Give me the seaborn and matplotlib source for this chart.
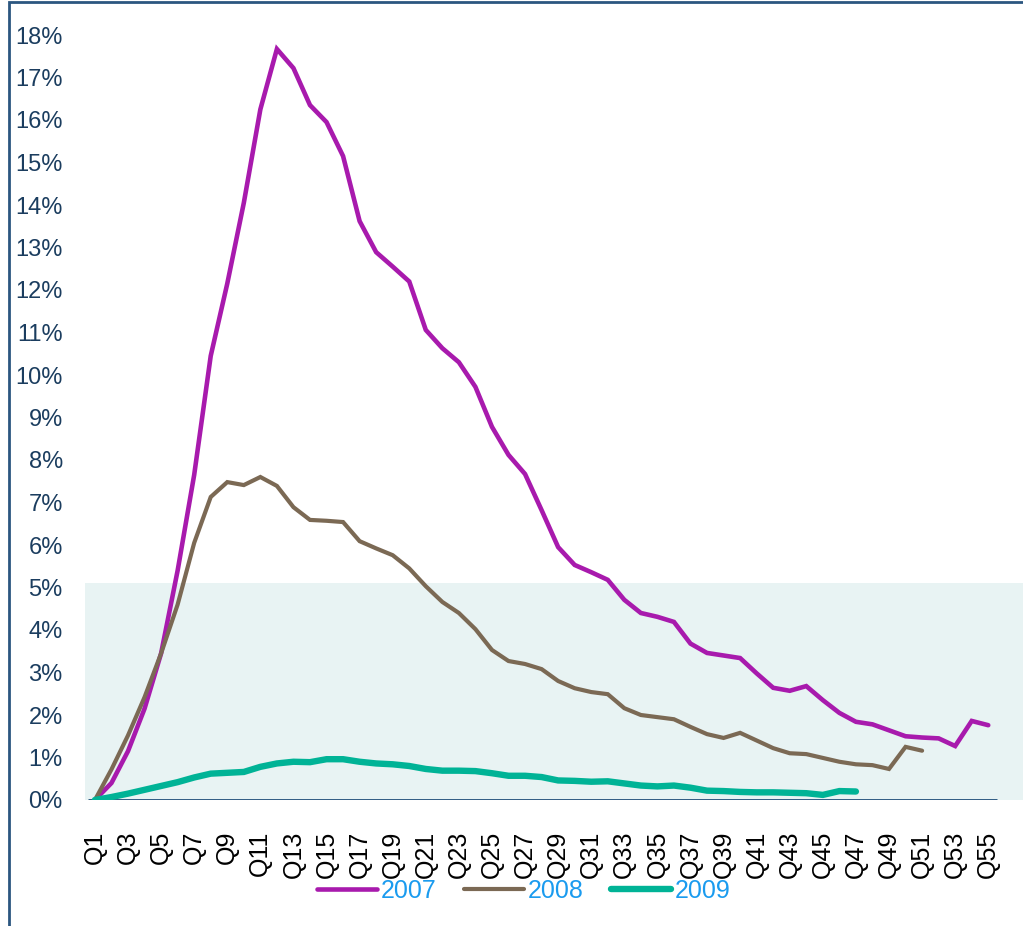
import matplotlib
matplotlib.use("Agg")
import matplotlib.pyplot as plt
from matplotlib.patches import Rectangle
import pandas as pd
import seaborn as sns

# Cumulative share by quarter since origination, per vintage (percent)
quarters = [f"Q{i}" for i in range(1, 56)]

vintage_2007 = [0.0, 0.4, 1.15, 2.15, 3.45, 5.4, 7.65, 10.45, 12.15, 14.05,
                16.25, 17.67, 17.22, 16.35, 15.95, 15.15, 13.62, 12.89, 12.55, 12.2,
                11.06, 10.63, 10.3, 9.72, 8.78, 8.12, 7.67, 6.82, 5.95, 5.53,
                5.36, 5.18, 4.71, 4.4, 4.31, 4.19, 3.68, 3.46, 3.4, 3.34,
                2.98, 2.64, 2.57, 2.68, 2.35, 2.05, 1.84, 1.78, 1.64, 1.5,
                1.47, 1.45, 1.27, 1.86, 1.76]

vintage_2008 = [0.0, 0.72, 1.52, 2.42, 3.45, 4.6, 6.05, 7.13, 7.48, 7.41,
                7.6, 7.39, 6.89, 6.59, 6.57, 6.54, 6.09, 5.92, 5.76, 5.45,
                5.03, 4.66, 4.4, 4.02, 3.53, 3.27, 3.2, 3.08, 2.8, 2.63,
                2.54, 2.49, 2.16, 2.0, 1.95, 1.9, 1.72, 1.55, 1.46, 1.58,
                1.4, 1.22, 1.1, 1.08, 0.99, 0.9, 0.84, 0.82, 0.73, 1.25,
                1.16]

vintage_2009 = [0.0, 0.07, 0.15, 0.24, 0.33, 0.42, 0.53, 0.62, 0.64, 0.66,
                0.78, 0.86, 0.9, 0.89, 0.96, 0.96, 0.9, 0.86, 0.84, 0.8,
                0.73, 0.69, 0.69, 0.68, 0.63, 0.57, 0.57, 0.54, 0.46, 0.45,
                0.43, 0.44, 0.39, 0.34, 0.32, 0.34, 0.29, 0.22, 0.21, 0.19,
                0.18, 0.18, 0.17, 0.16, 0.12, 0.21, 0.2]

years = ["2007", "2008", "2009"]
series = [vintage_2007, vintage_2008, vintage_2009]
band_level = 5.1

colors = {"2007": "#A81AAD", "2008": "#7B6954", "2009": "#00B396"}
widths = {"2007": 3.3, "2008": 3.0, "2009": 4.6}

sns.set_style("white")
plt.rcParams["font.family"] = ["Liberation Sans", "DejaVu Sans"]

fig = plt.figure(figsize=(10.23, 9.26), dpi=100)
ax = fig.add_axes([85 / 1023, 126 / 926, 938 / 1023, 765 / 926])

# shaded reference band
ax.axhspan(0, band_level, color="#E8F3F3", zorder=0, lw=0)

handles = []
for year, vals in zip(years, series):
    df = pd.DataFrame({"q": range(len(vals)), "value": vals})
    sns.lineplot(data=df, x="q", y="value", ax=ax, color=colors[year],
                 linewidth=widths[year], solid_capstyle="round",
                 solid_joinstyle="miter", zorder=3, label=year, legend=False)
    handles.append(ax.lines[-1])

# baseline axis
ax.hlines(0, -0.42, 54.5, color="#1F4E79", lw=2, zorder=2)

ax.set_xlim(-0.6, 56.1)
ax.set_ylim(0, 18)
ax.set_yticks(range(0, 19))
ax.set_yticklabels([f"{v}%" for v in range(0, 19)])
ax.set_xticks(range(0, len(quarters), 2))
ax.set_xticklabels(quarters[::2], rotation=90, va="top", ha="center")
ax.tick_params(axis="y", length=0, pad=16, labelsize=17, labelcolor="#1B3D5F")
ax.tick_params(axis="x", length=0, pad=22, labelsize=18, labelcolor="black")
ax.set_xlabel("")
ax.set_ylabel("")
for s in ax.spines.values():
    s.set_visible(False)

leg = fig.legend(handles, years, loc="center",
                 bbox_to_anchor=(524 / 1023, 1 - 891 / 926), ncol=3,
                 frameon=False, fontsize=18, handlelength=2.4,
                 handletextpad=0.15, columnspacing=1.1, labelcolor="#1A9BEF")

# outer frame
fig.add_artist(Rectangle((9 / 1023, -0.5), 2.0, 0.5 + 924 / 926,
                         transform=fig.transFigure, fill=False,
                         edgecolor="#2B5680", lw=2, clip_on=False))

fig.savefig("out.png", dpi=100)
